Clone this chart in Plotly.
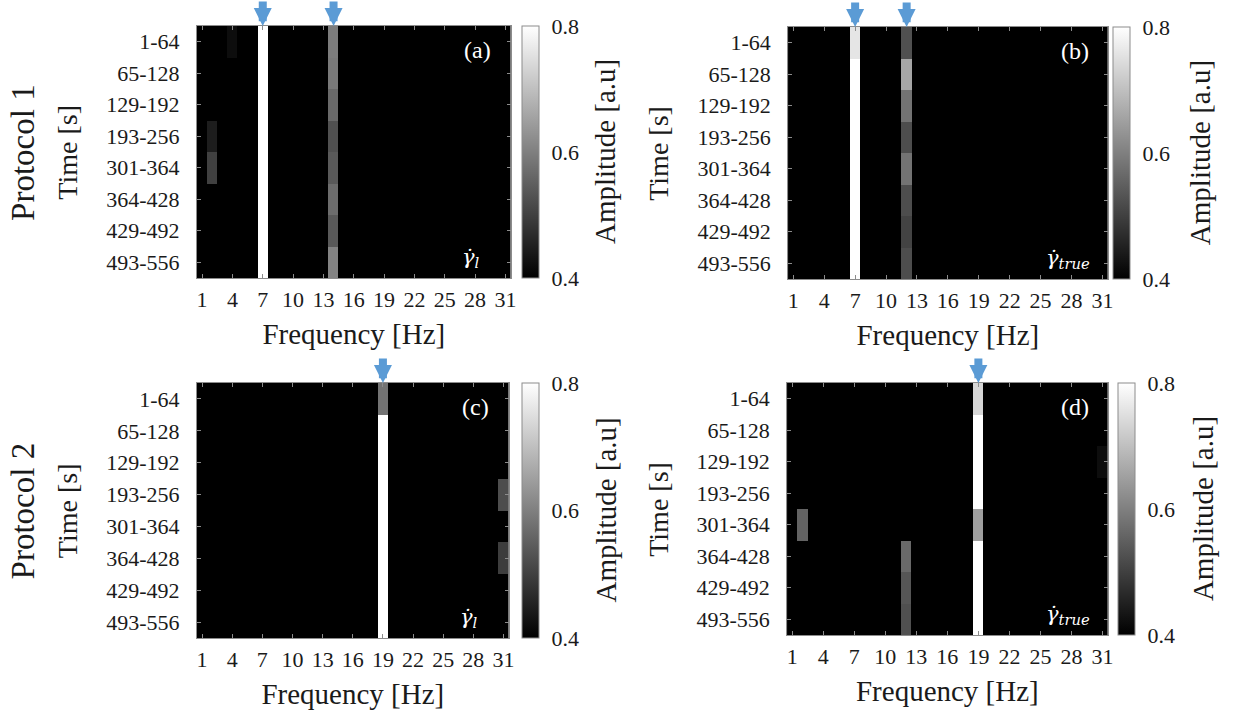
import plotly.graph_objects as go

# ---------------- data ----------------
freqs = list(range(1, 32))
freq_ticks = [1, 4, 7, 10, 13, 16, 19, 22, 25, 28, 31]
time_labels = ["1-64", "65-128", "129-192", "193-256", "301-364", "364-428", "429-492", "493-556"]
background = 0.35  # below colour range -> black

# non-background columns: frequency -> amplitude per time window (8 rows, top to bottom)
panel_a_cols = {
    2:  [0.35, 0.35, 0.35, 0.445, 0.50, 0.35, 0.35, 0.35],
    4:  [0.42, 0.35, 0.35, 0.35, 0.35, 0.35, 0.35, 0.35],
    7:  [0.85, 0.85, 0.85, 0.85, 0.85, 0.85, 0.85, 0.85],
    14: [0.595, 0.59, 0.565, 0.525, 0.54, 0.57, 0.54, 0.605],
}
panel_b_cols = {
    7:  [0.76, 0.85, 0.85, 0.85, 0.85, 0.85, 0.85, 0.85],
    12: [0.525, 0.66, 0.58, 0.52, 0.58, 0.52, 0.505, 0.52],
}
panel_c_cols = {
    19: [0.58, 0.85, 0.85, 0.85, 0.85, 0.85, 0.85, 0.85],
    31: [0.35, 0.35, 0.35, 0.52, 0.35, 0.495, 0.35, 0.35],
}
panel_d_cols = {
    2:  [0.35, 0.35, 0.35, 0.35, 0.555, 0.35, 0.35, 0.35],
    12: [0.35, 0.35, 0.35, 0.35, 0.35, 0.565, 0.535, 0.525],
    19: [0.735, 0.85, 0.85, 0.85, 0.65, 0.85, 0.85, 0.85],
    31: [0.35, 0.35, 0.42, 0.35, 0.35, 0.35, 0.35, 0.35],
}
panel_letters = ["(a)", "(b)", "(c)", "(d)"]
panel_signals = ["<i>γ̇</i><sub><i>l</i></sub>", "<i>γ̇</i><sub><i>true</i></sub>",
                 "<i>γ̇</i><sub><i>l</i></sub>", "<i>γ̇</i><sub><i>true</i></sub>"]
arrow_freqs = [[7, 14], [7, 12], [19], [19]]
protocol_labels = ["Protocol 1", "Protocol 2"]

# ---------------- layout helpers ----------------
W, H = 1233, 719
def px(x):
    return x / W
def py(y):
    return 1 - y / H

def build(cols):
    z = [[background for _ in freqs] for _ in time_labels]
    for f, vals in cols.items():
        for r, v in enumerate(vals):
            z[r][freqs.index(f)] = v
    return z

panels = [panel_a_cols, panel_b_cols, panel_c_cols, panel_d_cols]
# plot areas in pixels: (left, right, top, bottom)
boxes = [(198, 513, 26, 278), (792, 1113, 27, 279), (198, 511, 383, 638), (791, 1113, 383, 635)]
cbar_x = [525, 1118, 525, 1123]
cbar_title_off = [83, 88, 83, 86]

FONT = "'Liberation Serif', 'Times New Roman', Times, serif"
MATH = "'DejaVu Serif', serif"
INK = "#1a1a1a"
GRID = "#8c8c8c"
fig = go.Figure()

def note(text, x, y, size, color=INK, angle=0, family=FONT):
    fig.add_annotation(text=text, xref="paper", yref="paper", x=px(x), y=py(y),
                       xanchor="center", yanchor="middle", textangle=angle,
                       showarrow=False, font=dict(family=family, size=size, color=color))

for i, cols in enumerate(panels):
    l, r, t, b = boxes[i]
    xa = "x" if i == 0 else f"x{i+1}"
    ya = "y" if i == 0 else f"y{i+1}"
    fig.add_trace(go.Heatmap(
        x=freqs, y=time_labels, z=build(cols),
        zmin=0.4, zmax=0.8,
        colorscale=[[0, "#000000"], [1, "#ffffff"]],
        xaxis=xa, yaxis=ya,
        colorbar=dict(
            x=px(cbar_x[i]), xanchor="left", xpad=0, ypad=0,
            y=py(t), yanchor="top", lenmode="pixels", len=b - t,
            thickness=17, outlinecolor=GRID, outlinewidth=1,
            tickvals=[0.4, 0.6, 0.8], ticktext=["0.4", "0.6", "0.8"],
            ticks="outside", ticklen=8, tickcolor="rgba(0,0,0,0)",
            tickfont=dict(family=FONT, size=22, color=INK),
        ),
    ))
    axkey = "xaxis" if i == 0 else f"xaxis{i+1}"
    aykey = "yaxis" if i == 0 else f"yaxis{i+1}"
    fig.layout[axkey] = dict(
        domain=[px(l), px(r)], anchor=ya, range=[0.5, 31.5],
        tickvals=freq_ticks, ticktext=[str(v) for v in freq_ticks],
        ticks="inside", ticklen=4, tickcolor=GRID, showline=True, linecolor=GRID,
        linewidth=1, mirror="ticks", showgrid=False, zeroline=False,
        tickfont=dict(family=FONT, size=22, color=INK),
        ticklabelstandoff=2,
        title=dict(text="Frequency [Hz]", font=dict(family=FONT, size=29, color=INK), standoff=12),
    )
    fig.layout[aykey] = dict(
        domain=[py(b), py(t)], anchor=xa, autorange="reversed", type="category",
        ticks="inside", ticklen=4, tickcolor=GRID, showline=True, linecolor=GRID,
        linewidth=1, mirror="ticks", showgrid=False, zeroline=False,
        tickfont=dict(family=FONT, size=22, color=INK),
        ticklabelstandoff=12,
    )
    note("Time [s]", l - 130, (t + b) / 2, 28, angle=-90)
    note("Amplitude [a.u]", cbar_x[i] + cbar_title_off[i], (t + b) / 2, 29, angle=-90)
    note(panel_letters[i], r - 33, t + 24, 24, color="white")
    note(panel_signals[i], r - 40, b - 20, 21, color="white", family=MATH)
    # arrows
    for f in arrow_freqs[i]:
        fig.add_annotation(x=f, y=1, xref=xa, yref=f"{ya} domain",
                           ax=0, ay=-26, showarrow=True, arrowhead=2, arrowsize=0.45,
                           arrowwidth=8, arrowcolor="#5b9bd5", text="", standoff=0)

for k, lab in enumerate(protocol_labels):
    l, r, t, b = boxes[2 * k]
    note(lab, 23, (t + b) / 2, 33, angle=-90)

fig.update_layout(width=W, height=H, margin=dict(l=0, r=0, t=0, b=0),
                  paper_bgcolor="white", plot_bgcolor="black", showlegend=False,
                  font=dict(family=FONT, color=INK))
fig.write_html("out.html", config={"displayModeBar": False},
               post_script="document.body.style.margin='0px';document.body.style.padding='0px';")
